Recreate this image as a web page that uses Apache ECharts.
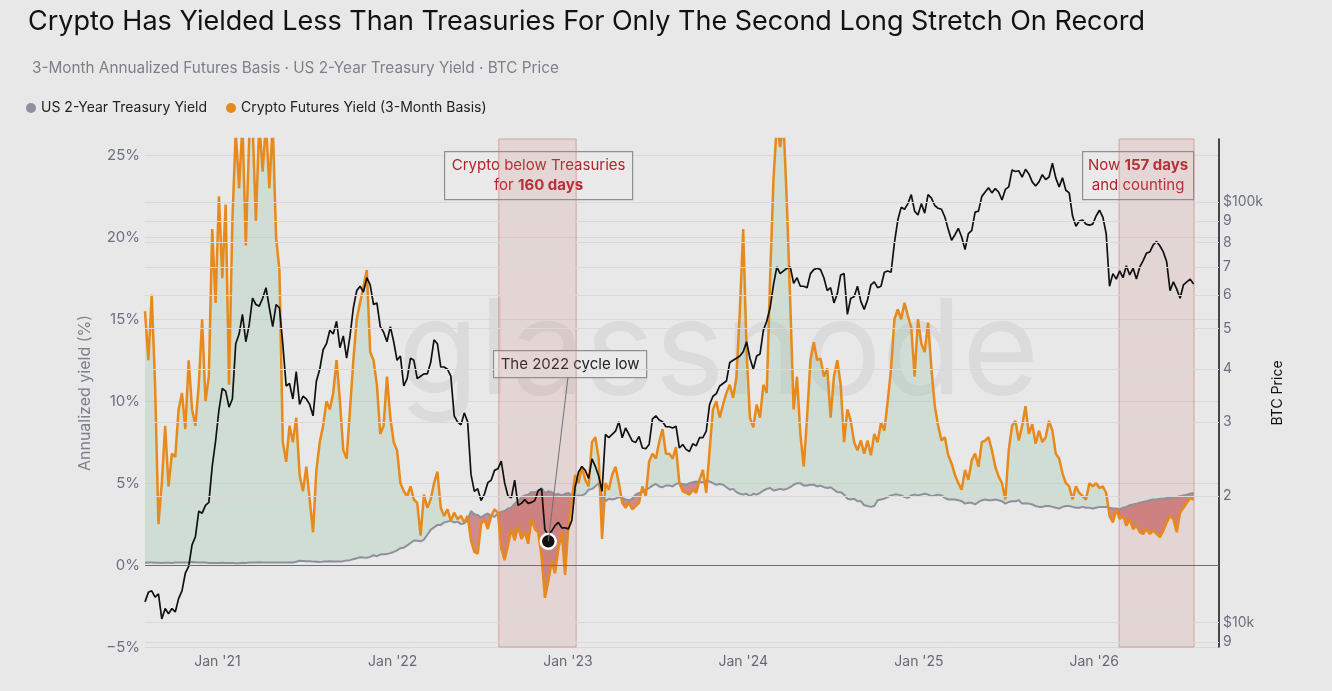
<!DOCTYPE html>
<html lang="en">
<head>
<meta charset="UTF-8">
<title>Crypto vs Treasuries</title>
<script src="https://cdn.jsdelivr.net/npm/echarts@6/dist/echarts.min.js"></script>
<style>
    html, body { margin: 0; padding: 0; background: #e8e8e8; }
    #main { width: 1332px; height: 691px; }
</style>
</head>
<body>
<div id="main"></div>
<script>
    // weekly samples starting 2020-08-03
    var startDate = Date.UTC(2020, 7, 3);
    var stepDays = 7;

    // US 2-year treasury yield (%)
    var treasury2y = [
        0.14,0.15,0.15,0.14,0.14,0.13,0.14,0.14,0.13,0.15,
        0.15,0.15,0.16,0.16,0.18,0.17,0.16,0.15,0.15,0.13,
        0.13,0.12,0.13,0.14,0.13,0.12,0.12,0.11,0.11,0.14,
        0.13,0.15,0.16,0.15,0.17,0.16,0.16,0.16,0.16,0.16,
        0.16,0.15,0.15,0.15,0.16,0.20,0.26,0.25,0.23,0.23,
        0.21,0.20,0.18,0.21,0.22,0.23,0.22,0.21,0.22,0.24,
        0.28,0.30,0.36,0.41,0.48,0.46,0.45,0.50,0.60,0.54,
        0.64,0.66,0.67,0.73,0.80,0.90,1.03,1.06,1.20,1.35,
        1.50,1.48,1.45,1.55,1.85,2.15,2.30,2.45,2.45,2.60,
        2.65,2.70,2.60,2.65,2.50,2.55,2.75,3.30,3.10,3.05,
        2.90,3.05,3.15,3.00,2.95,3.15,3.25,3.30,3.45,3.50,
        3.75,3.90,4.15,4.25,4.30,4.45,4.45,4.50,4.70,4.40,
        4.50,4.45,4.30,4.35,4.25,4.35,4.40,4.25,4.20,4.25,
        4.25,4.35,4.60,4.65,4.80,5.00,4.20,3.90,4.05,4.00,
        4.05,4.15,4.10,4.00,3.95,4.05,4.30,4.40,4.45,4.60,
        4.70,4.85,4.95,4.80,4.75,4.85,4.85,4.80,4.95,5.00,
        4.95,4.90,5.00,5.05,5.10,5.05,5.05,5.15,5.10,5.00,
        4.90,4.95,4.90,4.75,4.60,4.65,4.45,4.35,4.30,4.35,
        4.20,4.35,4.30,4.40,4.55,4.65,4.70,4.55,4.60,4.65,
        4.60,4.65,4.75,4.90,5.00,5.00,4.85,4.85,4.90,4.90,
        4.80,4.85,4.75,4.70,4.75,4.60,4.45,4.45,4.30,4.05,
        4.00,4.05,3.90,3.90,3.65,3.60,3.55,3.60,3.95,4.00,
        4.05,4.15,4.25,4.30,4.30,4.25,4.15,4.10,4.25,4.30,
        4.25,4.30,4.35,4.30,4.20,4.25,4.30,4.25,4.10,4.00,
        4.00,4.00,3.95,3.90,3.75,3.80,3.80,3.70,3.85,3.95,
        4.00,3.95,3.95,4.00,3.95,3.90,3.75,3.85,3.90,3.90,
        3.95,3.75,3.75,3.75,3.70,3.60,3.55,3.55,3.60,3.60,
        3.55,3.50,3.45,3.55,3.60,3.60,3.55,3.50,3.50,3.55,
        3.50,3.50,3.45,3.50,3.55,3.55,3.55,3.50,3.45,3.45,
        3.40,3.50,3.55,3.65,3.70,3.75,3.80,3.85,3.90,3.95,
        4.00,4.00,4.05,4.05,4.10,4.10,4.15,4.15,4.20,4.25,
        4.30,4.35,4.40
    ];

    // 3-month annualized futures basis (%)
    var futuresBasis = [
        15.5,12.5,16.5,11.0,2.5,5.0,8.5,4.8,6.8,6.6,
        9.5,10.5,8.3,12.5,9.5,8.5,11.0,15.0,10.0,11.5,
        20.5,16.0,22.5,17.5,22.0,11.0,21.0,26.5,23.0,27.0,
        19.5,26.0,27.0,21.0,27.0,24.0,27.0,23.0,27.0,20.0,
        18.0,7.5,6.3,8.5,7.5,9.0,5.5,4.5,6.0,4.0,
        2.0,5.8,7.5,8.5,10.0,9.5,10.5,12.5,10.0,7.0,
        6.5,9.5,12.5,15.0,16.0,17.0,18.0,13.0,12.5,11.0,
        8.0,8.5,11.5,9.0,7.5,7.0,5.0,4.5,4.2,4.8,
        4.0,3.8,1.8,4.3,3.5,4.0,5.0,5.7,3.5,3.0,
        3.4,2.7,3.2,2.8,3.0,2.6,3.0,1.5,0.8,0.7,
        2.5,2.8,2.2,3.0,3.4,3.2,1.0,0.3,1.2,2.2,
        1.5,2.4,1.6,2.0,1.3,2.8,2.2,2.0,0.5,-2.0,
        -1.0,0.2,-0.5,1.0,2.0,-0.6,2.5,4.0,5.5,5.0,
        6.0,5.2,4.8,7.5,7.8,6.5,1.6,5.0,4.6,5.5,
        6.0,5.0,3.8,3.5,3.8,3.4,3.6,3.8,4.8,4.2,
        6.3,6.8,6.5,7.5,8.3,6.8,6.8,6.5,7.2,5.0,
        4.5,4.4,4.3,4.6,4.4,5.2,5.8,4.4,7.0,9.5,
        10.0,9.0,9.8,10.5,11.0,10.2,11.5,15.5,20.5,13.0,
        9.0,8.4,9.8,9.0,11.0,10.5,17.5,23.5,27.0,25.5,
        27.0,22.0,16.0,9.5,11.5,8.0,6.0,9.0,12.5,13.6,
        12.5,12.6,11.5,12.0,9.0,11.5,12.5,11.0,7.5,9.5,
        8.8,7.5,7.0,7.6,6.8,7.6,6.7,8.0,7.5,8.7,
        8.2,10.0,12.0,15.0,15.6,15.0,16.0,15.2,14.5,11.5,
        15.0,13.5,13.0,14.8,12.0,9.7,8.5,7.6,7.8,6.7,
        6.2,5.5,5.0,4.6,5.8,5.2,6.4,6.8,6.0,7.5,
        7.6,7.8,7.0,6.0,5.4,5.0,4.0,7.0,8.5,8.8,
        7.6,8.5,9.7,8.0,8.6,7.4,8.2,7.5,7.8,8.8,
        8.2,6.8,6.5,5.6,5.0,4.8,4.0,4.8,4.4,4.2,
        4.0,5.0,4.8,5.0,4.7,4.8,4.4,3.0,2.6,3.4,
        2.8,3.0,2.4,2.8,2.2,2.4,2.0,1.9,2.2,1.9,
        2.1,1.9,1.7,2.1,2.6,3.0,2.8,2.0,3.2,3.5,
        3.8,4.1,4.0
    ];

    // BTC price, USD thousands
    var btcPrice = [
        11.2,11.8,11.9,11.5,11.7,10.2,10.8,10.5,10.8,10.6,
        11.4,11.9,13.1,13.6,15.3,16.0,18.4,18.2,19.0,19.3,
        23.5,27.0,32.0,36.0,35.5,32.5,34.0,46.0,48.5,54.0,
        46.5,51.0,59.0,57.0,56.5,59.0,62.5,56.0,50.5,57.0,
        56.0,46.0,36.5,37.0,34.0,39.5,33.0,34.5,34.0,33.0,
        31.0,37.5,40.0,44.5,46.0,49.5,48.5,52.0,45.0,48.0,
        42.5,48.0,56.0,61.5,63.0,61.0,66.0,63.5,57.0,57.5,
        50.5,49.0,46.5,50.5,46.5,42.0,43.0,36.5,38.0,42.5,
        42.0,38.0,38.5,39.0,39.0,41.5,47.0,46.0,40.5,40.5,
        40.0,38.5,31.0,30.0,29.5,31.5,30.0,22.5,20.5,20.8,
        19.5,20.2,21.5,21.8,23.0,23.2,24.2,21.5,20.0,19.8,
        21.8,19.0,19.2,19.6,19.2,19.3,19.5,20.6,20.8,16.6,
        16.2,16.5,17.0,17.3,16.8,16.8,16.7,17.5,21.0,22.8,
        23.5,23.0,22.0,24.5,23.5,22.3,20.5,28.0,27.5,28.0,
        28.5,30.0,27.5,29.0,28.0,27.0,26.8,27.7,26.0,25.9,
        26.5,30.5,31.0,30.3,30.0,29.2,29.2,29.0,29.3,26.0,
        26.5,25.8,25.5,26.6,26.3,27.5,27.5,28.5,33.0,34.5,
        35.0,36.5,37.0,37.5,41.5,42.0,42.5,43.0,44.0,46.5,
        42.5,40.0,43.0,43.5,49.5,52.0,56.0,63.5,70.0,67.5,
        68.5,69.5,70.0,64.0,66.0,63.0,63.0,62.5,67.5,69.0,
        69.5,69.0,66.0,61.5,62.5,57.5,60.5,67.0,67.5,54.0,
        59.0,59.5,63.0,58.0,55.5,58.5,63.5,64.5,62.5,63.0,
        68.0,68.5,68.0,80.0,90.5,97.0,96.0,99.0,104.0,95.0,
        93.0,99.0,94.0,104.0,102.0,98.0,96.5,96.0,92.0,86.0,
        81.0,83.5,86.5,82.5,77.0,84.0,85.5,94.5,95.0,103.0,
        105.5,108.0,105.0,107.5,105.5,101.0,107.0,108.5,119.0,118.0,
        118.5,114.5,119.5,116.5,111.5,109.0,111.5,116.0,113.0,114.5,
        123.5,114.0,108.5,114.0,106.5,105.0,92.5,87.5,90.0,90.5,
        88.5,88.0,88.5,92.5,95.5,92.0,84.0,63.0,67.5,65.5,
        68.5,66.0,70.5,67.0,69.5,65.5,70.0,72.5,75.5,76.0,
        79.0,80.5,78.5,76.0,72.0,61.5,64.5,62.0,59.0,63.5,
        64.5,65.5,63.8
    ];

    // tick labels
    var xTickYears = [2021, 2022, 2023, 2024, 2025, 2026];
    var btcTickValues = [9000, 10000, 20000, 30000, 40000, 50000, 60000, 70000, 80000, 90000, 100000];
    var btcTickLabels = ['9', '$10k', '2', '3', '4', '5', '6', '7', '8', '9', '$100k'];

    // periods where crypto yielded less than treasuries
    var belowPeriods = [[Date.UTC(2022, 7, 10), Date.UTC(2023, 0, 18)], [Date.UTC(2026, 1, 22), Date.UTC(2026, 6, 28)]];
    var cycleLow = [Date.UTC(2022, 10, 21), 15.6];

    var DAY = 86400000;
    var dates = treasury2y.map(function (v, i) { return startDate + i * stepDays * DAY; });
    function pairs(arr) {
        return arr.map(function (v, i) { return [dates[i], v]; });
    }

    var gray = '#8e909c', orange = '#e8891c', red = '#b3232c';
    var greenFill = 'rgba(160,200,170,0.32)', redFill = 'rgba(185,60,60,0.55)';
    var font = 'Inter, "Noto Sans", sans-serif';

    // spread between basis and treasury, split into runs of the same sign
    function spreadRuns() {
        var runs = [], cur = null;
        for (var i = 0; i < dates.length; i++) {
            var o = futuresBasis[i], g = treasury2y[i], s = o >= g ? 1 : -1;
            if (cur && s !== cur.sign) {
                var dp = futuresBasis[i - 1] - treasury2y[i - 1], d = o - g;
                var t = dp / (dp - d);
                var xc = dates[i - 1] + t * (dates[i] - dates[i - 1]);
                var yc = futuresBasis[i - 1] + t * (o - futuresBasis[i - 1]);
                cur.top.push([xc, yc]);
                cur.bot.push([xc, yc]);
                cur = { sign: s, top: [[xc, yc]], bot: [[xc, yc]] };
                runs.push(cur);
            } else if (!cur) {
                cur = { sign: s, top: [], bot: [] };
                runs.push(cur);
            }
            cur.top.push([dates[i], o]);
            cur.bot.push([dates[i], g]);
        }
        return runs;
    }
    var runs = spreadRuns();

    function renderSpread(params, api) {
        if (params.dataIndex !== 0) return null;
        return {
            type: 'group',
            children: runs.map(function (r) {
                var pts = r.top.concat(r.bot.slice().reverse()).map(function (p) { return api.coord(p); });
                return {
                    type: 'polygon', shape: { points: pts },
                    style: { fill: r.sign > 0 ? greenFill : redFill }
                };
            })
        };
    }

    var myChart = echarts.init(document.getElementById('main'));

    myChart.setOption({
        animation: false,
        backgroundColor: '#e8e8e8',
        textStyle: { fontFamily: font },
        title: [{
            text: 'Crypto Has Yielded Less Than Treasuries For Only The Second Long Stretch On Record',
            left: 23, top: 3,
            textStyle: { fontSize: 27, fontWeight: 'normal', color: '#121212', fontFamily: font }
        }, {
            text: '3-Month Annualized Futures Basis · US 2-Year Treasury Yield · BTC Price',
            left: 27, top: 56,
            textStyle: { fontSize: 15.3, fontWeight: 'normal', color: '#7b808a', fontFamily: font }
        }],
        legend: {
            data: ['US 2-Year Treasury Yield', 'Crypto Futures Yield (3-Month Basis)'],
            left: 21, top: 96,
            icon: 'circle', itemWidth: 10, itemHeight: 10, itemGap: 19,
            textStyle: { fontSize: 14, color: '#222', fontFamily: font }
        },
        grid: { left: 145, right: 113, top: 139, bottom: 44 },
        xAxis: {
            type: 'value',
            min: startDate,
            max: Date.UTC(2026, 8, 18),
            axisLine: { show: false },
            axisTick: { show: false },
            splitLine: { show: false },
            axisLabel: {
                customValues: xTickYears.map(function (y) { return Date.UTC(y, 0, 1); }),
                formatter: function (v) {
                    return "Jan '" + String(new Date(v).getUTCFullYear()).slice(2);
                },
                color: '#666a72', fontSize: 14, margin: 8
            }
        },
        yAxis: [{
            type: 'value',
            min: -5, max: 26, interval: 5,
            name: 'Annualized yield (%)',
            nameLocation: 'middle', nameGap: 52, nameRotate: 90,
            nameTextStyle: { fontSize: 16, color: '#7c8089' },
            axisLine: { show: false },
            axisTick: { show: false },
            axisLabel: {
                formatter: function (v) {
                    if (v % 5 !== 0) return '';
                    return (v < 0 ? '\u2212' + Math.abs(v) : v) + '%';
                },
                color: '#6b7080', fontSize: 15, margin: 5
            },
            splitLine: { show: true, showMaxLine: false, lineStyle: { color: '#d9d9d9', width: 1 } }
        }, {
            type: 'log', logBase: 10,
            min: 8.75, max: 141,
            position: 'right',
            name: 'BTC Price',
            nameLocation: 'middle', nameGap: 52, nameRotate: 90,
            nameTextStyle: { fontSize: 14, color: '#111' },
            axisLine: { show: true, lineStyle: { color: '#111', width: 1.5 } },
            axisTick: { show: false },
            axisLabel: { show: false },
            splitLine: { show: false }
        }],
        series: [{
            // BTC gridlines, right axis labels and shaded periods
            name: 'btcGrid', type: 'line', yAxisIndex: 1,
            data: pairs(btcPrice), symbol: 'none', silent: true,
            lineStyle: { opacity: 0 },
            markLine: {
                silent: true, symbol: ['none', 'none'], animation: false,
                lineStyle: { color: '#d9d9d9', width: 1, type: 'solid' },
                label: { position: 'end', distance: 4, color: '#6b7080', fontSize: 14, fontFamily: font },
                data: btcTickValues.map(function (v, i) {
                    return { yAxis: v / 1000, label: { formatter: btcTickLabels[i] } };
                })
            },
            markArea: {
                silent: true,
                itemStyle: { color: 'rgba(205,120,120,0.17)', borderColor: 'rgba(205,110,110,0.55)', borderWidth: 1 },
                data: belowPeriods.map(function (p) { return [{ xAxis: p[0] }, { xAxis: p[1] }]; })
            }
        }, {
            name: 'spread', type: 'custom', silent: true, clip: true,
            renderItem: renderSpread,
            encode: { x: 0, y: [1, 2] },
            data: dates.map(function (d, i) { return [d, futuresBasis[i], treasury2y[i]]; }),
            markLine: {
                silent: true, symbol: ['none', 'none'], label: { show: false },
                lineStyle: { color: '#6f6f73', width: 1.2, type: 'solid' },
                data: [{ yAxis: 0 }]
            }
        }, {
            name: 'US 2-Year Treasury Yield', type: 'line',
            data: pairs(treasury2y), symbol: 'none',
            color: gray, lineStyle: { color: gray, width: 2 }
        }, {
            name: 'Crypto Futures Yield (3-Month Basis)', type: 'line',
            data: pairs(futuresBasis), symbol: 'none',
            color: orange, lineStyle: { color: orange, width: 2.5 }
        }, {
            name: 'BTC Price', type: 'line', yAxisIndex: 1,
            data: pairs(btcPrice), symbol: 'none',
            color: '#111', lineStyle: { color: '#111', width: 1.7 },
            markPoint: {
                silent: true,
                symbol: 'circle', symbolSize: 15,
                itemStyle: { color: '#111', borderColor: '#fff', borderWidth: 2.5 },
                label: { show: false },
                data: [{ coord: cycleLow }]
            }
        }]
    });

    // annotations
    var lowPx = myChart.convertToPixel({ xAxisIndex: 0, yAxisIndex: 1 }, cycleLow);
    var boxText = { a: { fill: red, fontSize: 15, fontFamily: font, lineHeight: 20 },
                    b: { fill: red, fontSize: 15, fontWeight: 'bold', fontFamily: font, lineHeight: 20 } };

    function noteBox(x, y, w, h, text, rich, color) {
        return {
            type: 'group', left: x, top: y, z: 100,
            children: [{
                type: 'rect', shape: { x: 0, y: 0, width: w, height: h },
                style: { fill: '#eaeaea', stroke: '#8c9096', lineWidth: 1.2 }
            }, {
                type: 'text', x: w / 2, y: h / 2,
                style: {
                    text: text, rich: rich, fill: color || '#222', font: '15px ' + font,
                    align: 'center', verticalAlign: 'middle'
                }
            }]
        };
    }

    myChart.setOption({
        graphic: [{
            type: 'text', left: 398, top: 288, z: -1, silent: true,
            style: { text: 'glassnode', font: '400 132px Inter', fill: 'rgba(0,0,0,0.055)' }
        }, {
            type: 'line', z: 99,
            shape: { x1: 568, y1: 377, x2: lowPx[0], y2: lowPx[1] },
            style: { stroke: '#6d7178', lineWidth: 1 }
        },
            noteBox(444, 151, 188, 48, '{a|Crypto below Treasuries}\n{a|for }{b|160 days}', boxText, red),
            noteBox(1082, 151, 111, 48, '{a|Now }{b|157 days}\n{a|and counting}', boxText, red),
            noteBox(493, 350, 153, 27, 'The 2022 cycle low', null, '#222')
        ]
    });
</script>
</body>
</html>
